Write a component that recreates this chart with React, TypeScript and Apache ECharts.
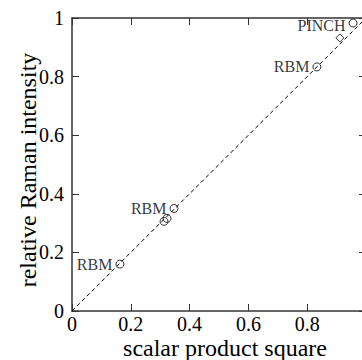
import React, { useEffect, useRef } from "react";
import * as echarts from "echarts";

const xTicks = [0, 0.2, 0.4, 0.6, 0.8, 1];
const circlePoints: [number, number, string][] = [
  [0.163, 0.16, "RBM"],
  [0.313, 0.306, ""],
  [0.323, 0.316, ""],
  [0.347, 0.35, "RBM"],
  [0.833, 0.833, "RBM"],
  [0.956, 0.983, "PINCH"],
];
const diamondPoints: [number, number][] = [[0.911, 0.932]];
const fitLine: [number, number][] = [
  [0, 0],
  [1, 1],
];
const xTitle = "scalar product square";
const yTitle = "relative Raman intensity";

const FONT = "'Liberation Serif', 'Times New Roman', serif";
const AXIS_COLOR = "#333";

export default function App() {
  const ref = useRef<HTMLDivElement>(null);
  useEffect(() => {
    if (!ref.current) return;
    const chart = echarts.init(ref.current, undefined, { renderer: "svg" });
    const fmt = (v: number) => (v === 0 || v === 1 ? String(v) : String(Number(v.toFixed(1))));
    const baseAxis = {
      type: "value" as const,
      min: xTicks[0],
      max: xTicks[xTicks.length - 1],
      interval: 0.2,
      splitLine: { show: false },
      axisLine: { show: true, onZero: false, lineStyle: { color: AXIS_COLOR, width: 1.5 } },
      axisTick: { show: true, inside: true, length: 7, lineStyle: { color: AXIS_COLOR, width: 1 } },
    };
    chart.setOption({
      animation: false,
      textStyle: { fontFamily: FONT },
      grid: { left: 72, top: 18, width: 294, height: 293, outerBoundsMode: "none", containLabel: false },
      xAxis: [
        {
          ...baseAxis,
          position: "bottom",
          axisLabel: {
            show: true,
            fontFamily: FONT,
            fontSize: 20,
            color: "#000",
            margin: 3,
            formatter: (v: number) => (v >= 1 ? "" : fmt(v)),
          },
        },
        { ...baseAxis, position: "top", axisLabel: { show: false } },
      ],
      yAxis: [
        {
          ...baseAxis,
          position: "left",
          axisLabel: { show: true, fontFamily: FONT, fontSize: 20, color: "#000", margin: 8, formatter: fmt },
        },
        { ...baseAxis, position: "right", axisLabel: { show: false } },
      ],
      graphic: [
        {
          type: "text",
          x: 225,
          y: 348,
          style: {
            text: xTitle,
            font: `24px ${FONT}`,
            fill: "#000",
            textAlign: "center",
            textVerticalAlign: "middle",
          },
        },
        {
          type: "text",
          x: 28,
          y: 170,
          rotation: Math.PI / 2,
          style: {
            text: yTitle,
            font: `24px ${FONT}`,
            fill: "#000",
            textAlign: "center",
            textVerticalAlign: "middle",
          },
        },
      ],
      series: [
        {
          type: "line",
          data: fitLine,
          symbol: "none",
          lineStyle: { color: "#000", width: 1, type: [4, 3] },
          z: 1,
        },
        {
          type: "scatter",
          data: circlePoints.map((p) => ({
            value: [p[0], p[1]],
            label: {
              show: p[2] !== "",
              formatter: p[2],
              position: "left",
              distance: 3,
              offset: p[2] === "PINCH" ? [0, 3] : [0, 0],
              fontFamily: FONT,
              fontSize: 16,
              color: "#000",
            },
          })),
          symbol: "circle",
          symbolSize: 8,
          itemStyle: { color: "rgba(0,0,0,0)", borderColor: "#000", borderWidth: 1 },
          z: 2,
        },
        {
          type: "scatter",
          data: diamondPoints,
          symbol: "diamond",
          symbolSize: 8,
          itemStyle: { color: "rgba(0,0,0,0)", borderColor: "#000", borderWidth: 1 },
          z: 2,
        },
      ],
    });
    return () => chart.dispose();
  }, []);
  return (
    <div
      ref={ref}
      style={{ position: "absolute", left: 0, top: 0, width: 362, height: 360, background: "#fff" }}
    />
  );
}
